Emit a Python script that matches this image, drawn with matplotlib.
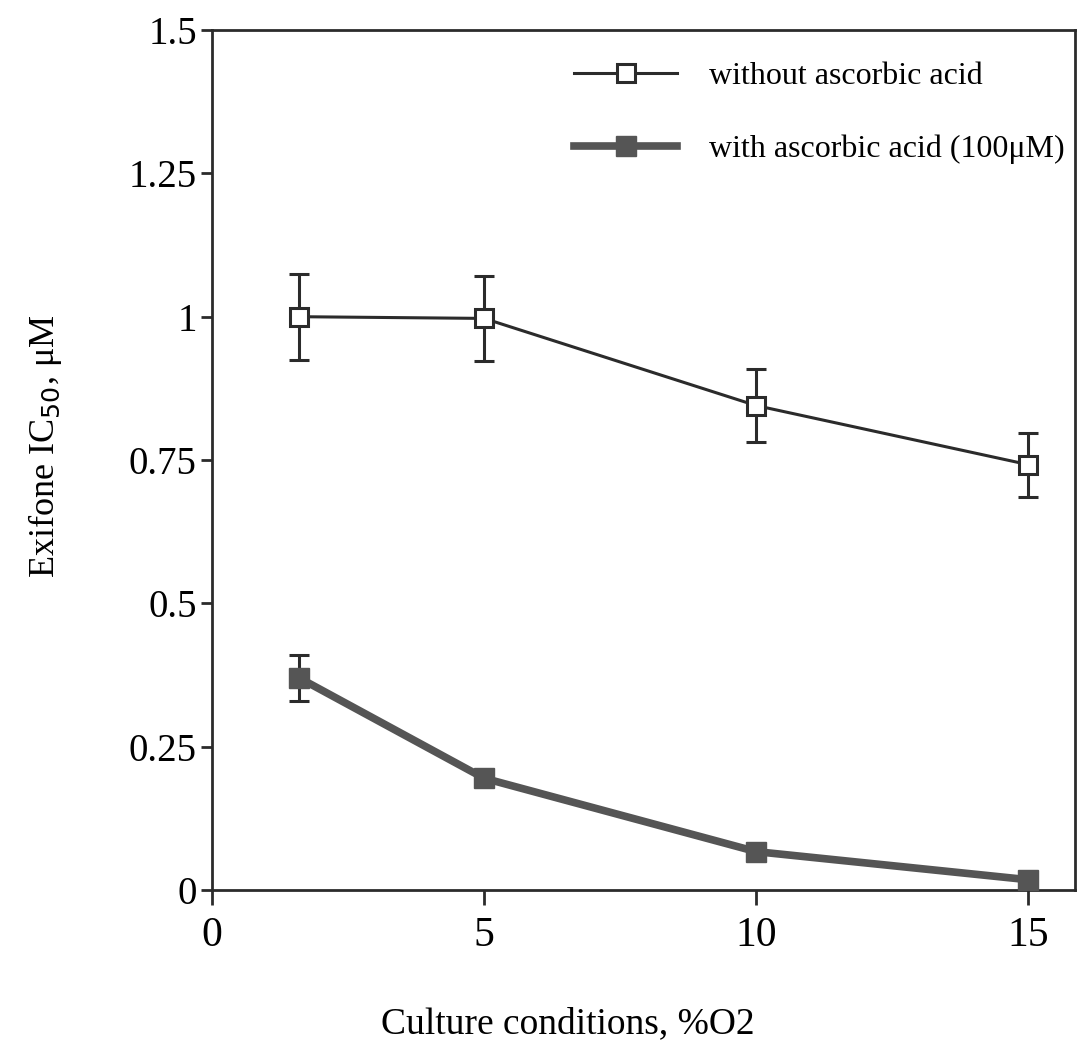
import matplotlib
matplotlib.use("Agg")
import matplotlib.pyplot as plt
from matplotlib.lines import Line2D

# data
o2 = [1.6, 5, 10, 15]
without_aa = [1.0, 0.997, 0.845, 0.742]
without_aa_err = [0.075, 0.074, 0.064, 0.056]
with_aa = [0.37, 0.195, 0.067, 0.018]
with_aa_err = [0.04, 0, 0, 0]
xticks = [0, 5, 10, 15]
yticks = [0, 0.25, 0.5, 0.75, 1.0, 1.25, 1.5]
ytick_labels = ["0", "0.25", "0.5", "0.75", "1", "1.25", "1.5"]
labels = ["without ascorbic acid", "with ascorbic acid (100μM)"]

plt.rcParams['font.family'] = ['Liberation Serif', 'DejaVu Serif']

fig = plt.figure(figsize=(10.83, 10.46), dpi=100)
ax = fig.add_axes([0.1958, 0.1491, 0.7968, 0.8222])

dark = "#2b2b2b"
gray = "#555555"

ax.errorbar(o2, without_aa, yerr=without_aa_err, color=dark, lw=2.2,
            marker='s', ms=13, mfc='white', mec=dark, mew=2.2,
            ecolor=dark, elinewidth=2.2, capsize=7, capthick=2.2, zorder=3)
ax.plot(o2, with_aa, color=gray, lw=5.5, marker='s', ms=14, mfc=gray, mec=gray,
        zorder=3)
n_err = sum(1 for e in with_aa_err if e > 0)
ax.errorbar(o2[:n_err], with_aa[:n_err], yerr=with_aa_err[:n_err], fmt='none',
            ecolor=dark, elinewidth=2.2, capsize=7, capthick=2.2, zorder=2)

ax.set_xlim(0, 15.86)
ax.set_ylim(0, 1.5)
ax.set_xticks(xticks)
ax.set_xticklabels([str(t) for t in xticks], fontsize=30)
ax.set_yticks(yticks)
ax.set_yticklabels(ytick_labels, fontsize=28)
ax.tick_params(axis='both', direction='out', width=2, color=dark)
ax.tick_params(axis='x', length=11, pad=8)
ax.tick_params(axis='y', length=8, pad=3)
for s in ax.spines.values():
    s.set_linewidth(2)
    s.set_color(dark)

ax.set_xlabel("Culture conditions, %O2", fontsize=27)
ax.xaxis.set_label_coords(0.412, -0.136)
ax.set_ylabel("Exifone IC$_{50}$, μM", fontsize=26)
ax.yaxis.set_label_coords(-0.172, 0.516)

handles = [
    Line2D([], [], color=dark, lw=2.2, marker='s', ms=13, mfc='white', mec=dark, mew=2.2),
    Line2D([], [], color=gray, lw=5.5, marker='s', ms=14, mfc=gray, mec=gray),
]
ax.legend(handles, labels, loc='upper left', frameon=False, fontsize=23,
          handlelength=3.2, labelspacing=1.35, handletextpad=1.0,
          borderaxespad=0, borderpad=0, bbox_to_anchor=(0.420, 0.963))

fig.savefig("out.png", dpi=100)
